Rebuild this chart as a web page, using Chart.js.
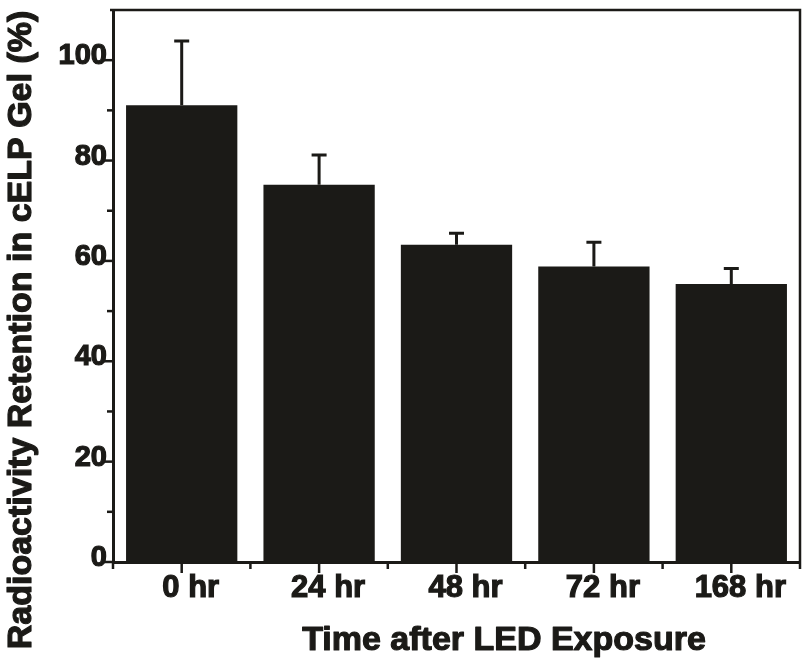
<!DOCTYPE html>
<html>
<head>
<meta charset="utf-8">
<script src="https://cdn.jsdelivr.net/npm/chart.js@4.4.1/dist/chart.umd.min.js"></script>
<style>
  html, body { margin: 0; padding: 0; background: #fff; }
  #wrap { width: 803px; height: 658px; }
</style>
</head>
<body>
<div id="wrap"><canvas id="retentionChart" width="803" height="658"></canvas></div>
<script>
const categories = ["0 hr", "24 hr", "48 hr", "72 hr", "168 hr"];
const retention = [91.0, 75.2, 63.2, 58.9, 55.4];
const errorUp = [13.0, 6.1, 2.5, 5.0, 3.3];
const yTicks = [0, 20, 40, 60, 80, 100];
const yMinorTicks = [10, 30, 50, 70, 90];

const ink = "#1b1a17";
const fontFamily = "'Liberation Sans', Arial, sans-serif";

// error bars, tick marks, frame and axis titles
const extras = {
  id: "extras",
  afterDatasetsDraw(chart) {
    const ctx = chart.ctx;
    const x = chart.scales.x;
    const y = chart.scales.y;
    const area = chart.chartArea;
    ctx.save();
    ctx.strokeStyle = ink;
    ctx.lineCap = "butt";

    // error bars (upper only)
    ctx.lineWidth = 3;
    retention.forEach((v, i) => {
      const cx = x.getPixelForValue(i);
      const top = y.getPixelForValue(v + errorUp[i]);
      const base = y.getPixelForValue(v);
      ctx.beginPath();
      ctx.moveTo(cx, base);
      ctx.lineTo(cx, top);
      ctx.moveTo(cx - 7.5, top + 1);
      ctx.lineTo(cx + 7.5, top + 1);
      ctx.stroke();
    });

    // frame top and right
    ctx.lineWidth = 2.5;
    ctx.beginPath();
    ctx.moveTo(area.left - 3, area.top);
    ctx.lineTo(area.right, area.top);
    ctx.lineTo(area.right, area.bottom + 7);
    ctx.stroke();

    // y ticks
    yTicks.forEach(v => {
      const py = y.getPixelForValue(v);
      ctx.beginPath();
      ctx.moveTo(area.left - 11, py);
      ctx.lineTo(area.left, py);
      ctx.stroke();
    });
    yMinorTicks.forEach(v => {
      const py = y.getPixelForValue(v);
      ctx.beginPath();
      ctx.moveTo(area.left - 6, py);
      ctx.lineTo(area.left, py);
      ctx.stroke();
    });

    // x ticks: major at centers, minor between categories
    const centers = categories.map((c, i) => x.getPixelForValue(i));
    centers.forEach(px => {
      ctx.beginPath();
      ctx.moveTo(px, area.bottom);
      ctx.lineTo(px, area.bottom + 11);
      ctx.stroke();
    });
    const bounds = [area.left];
    for (let i = 1; i < centers.length; i++) bounds.push((centers[i - 1] + centers[i]) / 2);
    bounds.forEach(px => {
      ctx.beginPath();
      ctx.moveTo(px, area.bottom);
      ctx.lineTo(px, area.bottom + 7);
      ctx.stroke();
    });

    // axis titles
    ctx.fillStyle = ink;
    ctx.lineWidth = 1.2;
    ctx.lineJoin = "round";
    ctx.font = "bold 34px " + fontFamily;
    ctx.textAlign = "center";
    ctx.textBaseline = "middle";
    ctx.fillText("Time after LED Exposure", 504, 641);
    ctx.strokeText("Time after LED Exposure", 504, 641);
    ctx.translate(22, 330);
    ctx.rotate(-Math.PI / 2);
    ctx.fillText("Radioactivity Retention in cELP Gel (%)", 0, 0);
    ctx.strokeText("Radioactivity Retention in cELP Gel (%)", 0, 0);
    ctx.restore();
  }
};

new Chart(document.getElementById("retentionChart"), {
  type: "bar",
  data: {
    labels: categories,
    datasets: [{
      data: retention,
      backgroundColor: ink,
      borderWidth: 0,
      barPercentage: 0.81,
      categoryPercentage: 1.0
    }]
  },
  options: {
    responsive: false,
    animation: false,
    layout: { padding: { top: 10, right: 3, left: 0, bottom: 0 } },
    plugins: {
      legend: { display: false },
      tooltip: { enabled: false }
    },
    scales: {
      x: {
        grid: { drawOnChartArea: false, drawTicks: false },
        border: { display: true, color: ink, width: 3 },
        ticks: {
          color: ink,
          padding: 8,
          labelOffset: 9,
          textStrokeColor: ink,
          textStrokeWidth: 1.2,
          font: { family: fontFamily, weight: "bold", size: 31 }
        },
        afterFit(scale) {
          scale.height = 96;
          scale.paddingLeft = 0;
          scale.paddingRight = 0;
        }
      },
      y: {
        min: 0,
        max: 110,
        grid: { drawOnChartArea: false, drawTicks: false },
        border: { display: true, color: ink, width: 3 },
        afterBuildTicks(scale) { scale.ticks = yTicks.map(v => ({ value: v })); },
        ticks: {
          color: ink,
          padding: 6,
          labelOffset: -4,
          textStrokeColor: ink,
          textStrokeWidth: 1.2,
          font: { family: fontFamily, weight: "bold", size: 29 }
        },
        afterFit(scale) {
          scale.width = 113;
          scale.paddingTop = 0;
          scale.paddingBottom = 0;
        }
      }
    }
  },
  plugins: [extras]
});
</script>
</body>
</html>
